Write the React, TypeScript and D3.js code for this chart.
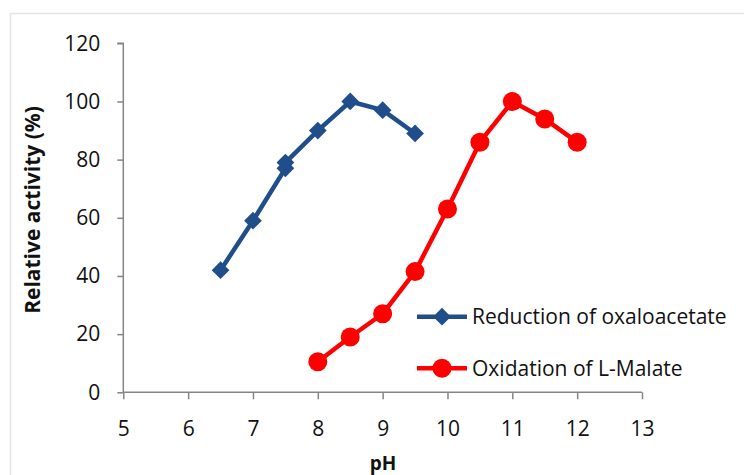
import React, { useEffect, useRef } from 'react';
import * as d3 from 'd3';

const reductionPH = [6.5, 7, 7.5, 7.5, 8, 8.5, 9, 9.5];
const reductionActivity = [42, 59, 77, 79, 90, 100, 97, 89];
const oxidationPH = [8, 8.5, 9, 9.5, 10, 10.5, 11, 11.5, 12];
const oxidationActivity = [10.5, 19, 27, 41.5, 63, 86, 100, 94, 86];
const xTicks = [5, 6, 7, 8, 9, 10, 11, 12, 13];
const yTicks = [0, 20, 40, 60, 80, 100, 120];
const seriesNames = ['Reduction of oxaloacetate', 'Oxidation of L-Malate'];

const BLUE = '#1f4e8a';
const RED = '#ff0000';
const AXIS = '#868686';
const FONT = "'Open Sans', 'DejaVu Sans', sans-serif";

const width = 744;
const height = 475;

export default function App() {
  const svgRef = useRef<SVGSVGElement>(null);

  useEffect(() => {
    document.body.style.margin = '0';
    if (!svgRef.current) return;
    const svg = d3.select(svgRef.current);
    svg.selectAll('*').remove();

    // chart area frame
    svg.append('rect')
      .attr('x', 10.5).attr('y', 13.5)
      .attr('width', 760).attr('height', 500)
      .attr('fill', '#fff').attr('stroke', '#e4e4e4').attr('stroke-width', 1.5);

    const x = d3.scaleLinear().domain([5, 13]).range([123.3, 642]);
    const y = d3.scaleLinear().domain([0, 120]).range([392.3, 43.3]);

    // axes
    const yAxis = svg.append('g')
      .attr('transform', `translate(${x(5)},0)`)
      .call(d3.axisLeft(y).tickValues(yTicks).tickSize(6).tickPadding(17));
    const xAxis = svg.append('g')
      .attr('transform', `translate(0,${y(0)})`)
      .call(d3.axisBottom(x).tickValues(xTicks).tickSize(7).tickPadding(22));
    [yAxis, xAxis].forEach(g => {
      g.select('.domain').attr('stroke', AXIS).attr('stroke-width', 1.5);
      g.selectAll('.tick line').attr('stroke', AXIS).attr('stroke-width', 1.5);
      g.selectAll('.tick text')
        .attr('fill', '#111')
        .style('font-family', FONT)
        .style('font-size', '21px');
    });
    yAxis.select('.domain').attr('d', `M-6,${y(120)}H0V${y(0)}`);
    xAxis.select('.domain').attr('d', `M${x(5)},0H${x(13)}`);

    // axis titles
    svg.append('text')
      .attr('transform', `translate(40,210) rotate(-90)`)
      .attr('text-anchor', 'middle')
      .style('font-family', FONT)
      .style('font-size', '21px')
      .style('font-weight', 'bold')
      .attr('fill', '#111')
      .text('Relative activity (%)');
    svg.append('text')
      .attr('x', 383).attr('y', 470)
      .attr('text-anchor', 'middle')
      .style('font-family', FONT)
      .style('font-size', '19px')
      .style('font-weight', 'bold')
      .attr('fill', '#111')
      .text('pH');

    const line = d3.line<[number, number]>()
      .x(d => x(d[0]))
      .y(d => y(d[1]));

    const blueData: [number, number][] = reductionPH.map((p, i) => [p, reductionActivity[i]]);
    const redData: [number, number][] = oxidationPH.map((p, i) => [p, oxidationActivity[i]]);

    const diamond = d3.symbol().type(d3.symbolDiamond2).size(200);

    svg.append('path')
      .datum(blueData)
      .attr('d', line)
      .attr('fill', 'none')
      .attr('stroke', BLUE)
      .attr('stroke-width', 4.5)
      .attr('stroke-linejoin', 'round');
    svg.selectAll('.blue-pt')
      .data(blueData)
      .join('path')
      .attr('class', 'blue-pt')
      .attr('d', diamond)
      .attr('transform', d => `translate(${x(d[0])},${y(d[1])})`)
      .attr('fill', BLUE);

    svg.append('path')
      .datum(redData)
      .attr('d', line)
      .attr('fill', 'none')
      .attr('stroke', RED)
      .attr('stroke-width', 4.5)
      .attr('stroke-linejoin', 'round');
    svg.selectAll('.red-pt')
      .data(redData)
      .join('circle')
      .attr('class', 'red-pt')
      .attr('cx', d => x(d[0]))
      .attr('cy', d => y(d[1]))
      .attr('r', 9.5)
      .attr('fill', RED);

    // legend
    const legend = svg.append('g');
    const rows = [
      { name: seriesNames[0], color: BLUE, ly: 316.7, shape: 'diamond' },
      { name: seriesNames[1], color: RED, ly: 368.3, shape: 'circle' },
    ];
    rows.forEach(r => {
      legend.append('line')
        .attr('x1', 417).attr('x2', 467)
        .attr('y1', r.ly).attr('y2', r.ly)
        .attr('stroke', r.color).attr('stroke-width', 4.5);
      if (r.shape === 'diamond') {
        legend.append('path')
          .attr('d', diamond)
          .attr('transform', `translate(442,${r.ly})`)
          .attr('fill', r.color);
      } else {
        legend.append('circle')
          .attr('cx', 442).attr('cy', r.ly).attr('r', 9.5)
          .attr('fill', r.color);
      }
      legend.append('text')
        .attr('x', 472).attr('y', r.ly)
        .attr('dy', '0.35em')
        .style('font-family', FONT)
        .style('font-size', '21px')
        .attr('fill', '#111')
        .text(r.name);
    });
  }, []);

  return <svg ref={svgRef} width={width} height={height} style={{ display: 'block' }} />;
}
